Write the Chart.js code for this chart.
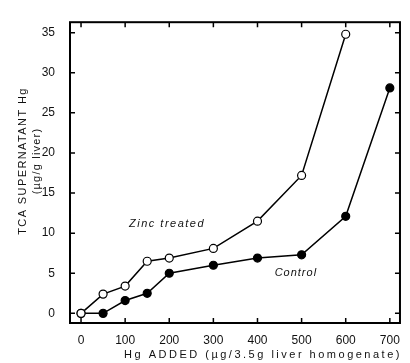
<!DOCTYPE html>
<html>
<head>
<meta charset="utf-8">
<script src="https://cdn.jsdelivr.net/npm/chart.js@4"></script>
<style>
  html, body { margin: 0; padding: 0; background: #fff; }
  #caixa { width: 410px; height: 363px; }
</style>
</head>
<body>
<div id="caixa"><canvas id="grafico"></canvas></div>
<script>
// valores
var hgAdicionado = [0, 50, 100, 150, 200, 300, 400, 500, 600, 700];
var zincoTratado = [0, 2.4, 3.4, 6.5, 6.9, 8.1, 11.5, 17.2, 34.8];
var controle = [0, 0, 1.6, 2.5, 5.0, 6.0, 6.9, 7.3, 12.1, 28.1];
var ticksX = [0, 100, 200, 300, 400, 500, 600, 700];
var ticksY = [0, 5, 10, 15, 20, 25, 30, 35];

var fonte = '"Liberation Sans", Arial, sans-serif';

function montaPontos(valores) {
    return valores.map(function(v, i) {
        return { x: hgAdicionado[i], y: v };
    });
}

function escreve(ctx, texto, x, y, fonteCss, espaco, rotacao) {
    ctx.save();
    ctx.translate(x, y);
    if (rotacao) ctx.rotate(rotacao);
    ctx.font = fonteCss;
    ctx.letterSpacing = espaco + 'px';
    ctx.textAlign = 'center';
    ctx.textBaseline = 'middle';
    ctx.fillText(texto, 0, 0);
    ctx.restore();
}

// moldura com marcas para dentro nos quatro lados + textos
var moldura = {
    id: 'moldura',
    afterDraw: function(chart) {
        var ctx = chart.ctx;
        var area = chart.chartArea;
        var sx = chart.scales.x;
        var sy = chart.scales.y;
        ctx.save();
        ctx.strokeStyle = '#000';
        ctx.lineWidth = 2;
        ctx.strokeRect(area.left, area.top, area.right - area.left, area.bottom - area.top);

        ctx.lineWidth = 1.5;
        ctx.beginPath();
        sx.ticks.forEach(function(t) {
            var px = sx.getPixelForValue(t.value);
            ctx.moveTo(px, area.bottom); ctx.lineTo(px, area.bottom - 5);
            ctx.moveTo(px, area.top); ctx.lineTo(px, area.top + 5);
        });
        sy.ticks.forEach(function(t) {
            var py = sy.getPixelForValue(t.value);
            ctx.moveTo(area.left, py); ctx.lineTo(area.left + 5, py);
            ctx.moveTo(area.right, py); ctx.lineTo(area.right - 5, py);
        });
        ctx.stroke();

        ctx.fillStyle = '#111';
        escreve(ctx, 'Zinc treated', sx.getPixelForValue(195), sy.getPixelForValue(11.2),
            'italic 11px ' + fonte, 1.5, 0);
        escreve(ctx, 'Control', sx.getPixelForValue(487), sy.getPixelForValue(5.1),
            'italic 11px ' + fonte, 1, 0);

        // titulos dos eixos
        escreve(ctx, 'Hg ADDED (\u00b5g/3.5g liver homogenate)', 263, 355,
            '11px ' + fonte, 2.5, 0);
        escreve(ctx, 'TCA SUPERNATANT Hg', 23, 161, '11px ' + fonte, 1.4, -Math.PI / 2);
        escreve(ctx, '(\u00b5g/g liver)', 37, 161, '11px ' + fonte, 1.2, -Math.PI / 2);
        ctx.restore();
    }
};

var ctx = document.getElementById('grafico');
var grafico = new Chart(ctx, {
    type: 'line',
    data: {
        datasets: [{
            label: 'Zinc treated',
            data: montaPontos(zincoTratado),
            borderColor: '#000',
            borderWidth: 1.5,
            pointRadius: 4,
            pointBackgroundColor: '#fff',
            pointBorderColor: '#000',
            pointBorderWidth: 1.2,
            order: 1
        }, {
            label: 'Control',
            data: montaPontos(controle),
            borderColor: '#000',
            borderWidth: 1.5,
            pointRadius: 4,
            pointBackgroundColor: '#000',
            pointBorderColor: '#000',
            pointBorderWidth: 1.2,
            order: 2
        }]
    },
    options: {
        responsive: true,
        maintainAspectRatio: false,
        animation: false,
        layout: { padding: { top: 13, right: 1, left: 0, bottom: 0 } },
        plugins: {
            legend: { display: false },
            tooltip: { enabled: false }
        },
        scales: {
            x: {
                type: 'linear',
                min: -25,
                max: 723,
                afterBuildTicks: function(scale) {
                    scale.ticks = ticksX.map(function(v) { return { value: v }; });
                },
                afterFit: function(scale) { scale.height = 40; },
                grid: { display: false, drawTicks: false },
                border: { display: false },
                ticks: {
                    padding: 10,
                    color: '#111',
                    maxRotation: 0,
                    font: { family: fonte, size: 12 }
                }
            },
            y: {
                type: 'linear',
                min: -1.2,
                max: 36.3,
                afterBuildTicks: function(scale) {
                    scale.ticks = ticksY.map(function(v) { return { value: v }; });
                },
                afterFit: function(scale) { scale.width = 70; },
                grid: { display: false, drawTicks: false },
                border: { display: false },
                ticks: {
                    padding: 15,
                    color: '#111',
                    font: { family: fonte, size: 12 }
                }
            }
        }
    },
    plugins: [moldura]
});
</script>
</body>
</html>
